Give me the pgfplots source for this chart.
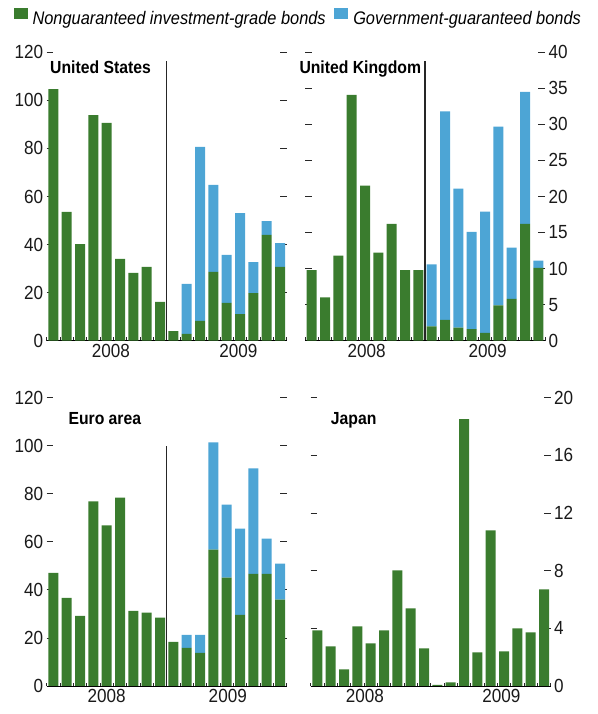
\documentclass[border=0pt]{standalone}
\usepackage{fontspec}
\setmainfont{Liberation Sans}[FakeStretch=0.9]
\usepackage{pgfplots}
\pgfplotsset{compat=1.18}
\definecolor{ngreen}{RGB}{58,124,46}
\definecolor{gblue}{RGB}{77,165,213}
\definecolor{tickgray}{RGB}{40,40,40}

\pgfplotsset{
  panel/.style={
    scale only axis, width=240pt, height=288.4pt,
    xmin=-0.5, xmax=17.5, ymin=0,
    ybar stacked, bar width=10pt,
    axis line style={draw=none},
    tick align=inside,
    major tick length=6.7pt, minor tick length=3.3pt,
    ytick pos=both,
    xtick pos=left,
    minor xtick={-0.5,0.5,...,17.5},
    major x tick style={draw=none},
    ytick style={tickgray, line width=0.8pt},
    minor x tick style={tickgray, line width=0.8pt},
    tick label style={font=\fontsize{19}{21}\selectfont, text=black!90},
    /pgf/number format/assume math mode=true,
    clip=false,
  },
  sq legend/.style={legend image code/.code={\fill[##1] (0pt,-0.6pt) rectangle (14pt,10.4pt);}},
}

\begin{document}
\begin{tikzpicture}
\path[use as bounding box] (0,0) rectangle (597pt,714pt);

% United States
\begin{axis}[panel, at={(46.7pt,373.3pt)}, anchor=south west,
  ymax=120, ytick={0,20,...,120}, yticklabel pos=left,
  xtick={4.31,13.87}, xticklabels={2008,2009},
  legend style={at={(-0.139,1.1196)}, anchor=west, draw=none, fill=none, inner sep=0pt,
    legend columns=-1, font=\itshape\fontsize{18.2}{20}\selectfont,
    /tikz/every even column/.append style={column sep=6.5pt},
    /tikz/every odd column/.append style={column sep=3pt}},
]
\addplot[fill=ngreen, draw=none, sq legend] coordinates {
 (0,104.7) (1,53.6) (2,40.2) (3,93.9) (4,90.6) (5,34.0) (6,28.2) (7,30.7) (8,16.1)
 (9,4.0) (10,2.8) (11,8.2) (12,28.6) (13,15.7) (14,11.1) (15,19.8) (16,44.0) (17,30.7)};
\addlegendentry{Nonguaranteed investment-grade bonds}
\addplot[fill=gblue, draw=none, sq legend] coordinates {
 (0,0) (1,0) (2,0) (3,0) (4,0) (5,0) (6,0) (7,0) (8,0)
 (9,0) (10,20.8) (11,72.4) (12,36.2) (13,20.0) (14,42.0) (15,12.9) (16,5.8) (17,9.9)};
\addlegendentry{Government-guaranteed bonds}
\draw[black, line width=0.8pt] (rel axis cs:0,0) -- (rel axis cs:1,0);
\draw[black!85, line width=1.1pt] (axis cs:8.5,0) -- (axis cs:8.5,116.4);
\end{axis}

% United Kingdom
\begin{axis}[panel, at={(305pt,373.3pt)}, anchor=south west,
  ymax=40, ytick={0,5,...,40}, yticklabel pos=right,
  xtick={4.13,13.2}, xticklabels={2008,2009},
]
\addplot[fill=ngreen, draw=none] coordinates {
 (0,9.8) (1,6.0) (2,11.8) (3,34.1) (4,21.5) (5,12.2) (6,16.2) (7,9.8) (8,9.8)
 (9,2.0) (10,2.9) (11,1.8) (12,1.6) (13,1.1) (14,4.9) (15,5.8) (16,16.2) (17,10.1)};
\addplot[fill=gblue, draw=none] coordinates {
 (0,0) (1,0) (2,0) (3,0) (4,0) (5,0) (6,0) (7,0) (8,0)
 (9,8.6) (10,28.9) (11,19.3) (12,13.5) (13,16.8) (14,24.8) (15,7.1) (16,18.3) (17,1.0)};
\draw[black, line width=0.8pt] (rel axis cs:0,0) -- (rel axis cs:1,0);
\draw[black!85, line width=1.1pt] (axis cs:8.5,0) -- (axis cs:8.5,38.8);
\end{axis}

% Euro area
\begin{axis}[panel, at={(46.7pt,28pt)}, anchor=south west,
  ymax=120, ytick={0,20,...,120}, yticklabel pos=left,
  xtick={4.0,13.08}, xticklabels={2008,2009},
]
\addplot[fill=ngreen, draw=none] coordinates {
 (0,47.1) (1,36.7) (2,29.2) (3,76.8) (4,66.8) (5,78.4) (6,31.3) (7,30.5) (8,28.4)
 (9,18.4) (10,15.9) (11,13.8) (12,56.7) (13,45.1) (14,29.6) (15,46.7) (16,46.7) (17,35.9)};
\addplot[fill=gblue, draw=none] coordinates {
 (0,0) (1,0) (2,0) (3,0) (4,0) (5,0) (6,0) (7,0) (8,0)
 (9,0) (10,5.4) (11,7.5) (12,44.7) (13,30.4) (14,35.9) (15,43.8) (16,14.6) (17,15.0)};
\draw[black, line width=0.8pt] (rel axis cs:0,0) -- (rel axis cs:1,0);
\draw[black!85, line width=1.1pt] (axis cs:8.5,0) -- (axis cs:8.5,100);
\end{axis}

% Japan
\begin{axis}[panel, at={(310.7pt,28pt)}, anchor=south west,
  ymax=20, ytick={0,4,...,20}, yticklabel pos=right,
  xtick={3.57,13.8}, xticklabels={2008,2009},
]
\addplot[fill=ngreen, draw=none] coordinates {
 (0,3.86) (1,2.75) (2,1.16) (3,4.14) (4,2.96) (5,3.86) (6,8.02) (7,5.39) (8,2.61)
 (9,0.08) (10,0.25) (11,18.5) (12,2.34) (13,10.8) (14,2.4) (15,4.0) (16,3.72) (17,6.7)};
\draw[black, line width=0.8pt] (rel axis cs:0,0) -- (rel axis cs:1,0);
\end{axis}

\node[anchor=base west, inner sep=0pt, font=\bfseries\fontsize{17.5}{20}\selectfont] at (50pt,640pt) {United States};
\node[anchor=base west, inner sep=0pt, font=\bfseries\fontsize{17.5}{20}\selectfont] at (299.3pt,640pt) {United Kingdom};
\node[anchor=base west, inner sep=0pt, font=\bfseries\fontsize{17.5}{20}\selectfont] at (68.3pt,289pt) {Euro area};
\node[anchor=base west, inner sep=0pt, font=\bfseries\fontsize{17.5}{20}\selectfont] at (330.7pt,289pt) {Japan};
\end{tikzpicture}
\end{document}
